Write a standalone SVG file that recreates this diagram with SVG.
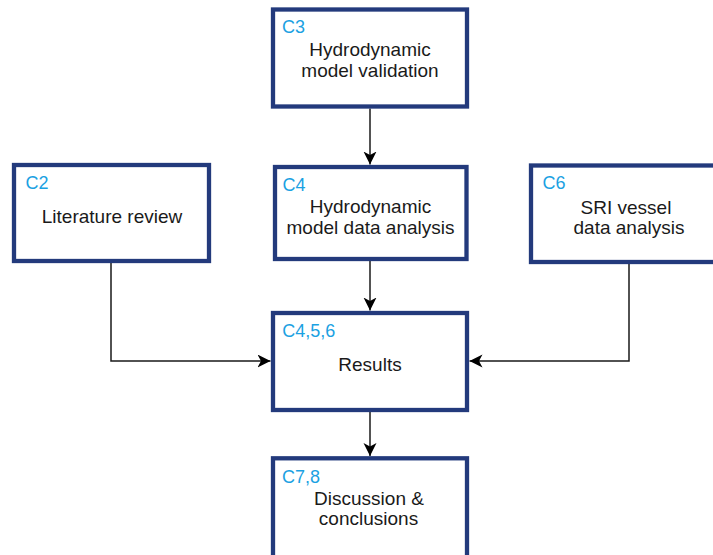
<svg xmlns="http://www.w3.org/2000/svg" width="713" height="555" viewBox="0 0 713 555">
<style>
.box{fill:#ffffff;stroke:#233a7c;stroke-width:4.3}
.lbl{font-family:"Liberation Sans",Arial,sans-serif;font-size:18px;fill:#1ba1e2}
.txt{font-family:"Liberation Sans",Arial,sans-serif;font-size:19px;fill:#1a1a1a;text-anchor:middle}
.con{fill:none;stroke:#1a1a1a;stroke-width:1.5}
</style>
<defs>
<marker id="arr" markerUnits="userSpaceOnUse" markerWidth="14" markerHeight="14" refX="13" refY="6.5" orient="auto" viewBox="0 0 14 14">
<path d="M0,0 L13,6.5 L0,13 L3.5,6.5 Z" fill="#000000"/>
</marker>
</defs>
<rect x="0" y="0" width="713" height="555" fill="#ffffff"/>
<g id="connectors">
<path class="con" d="M370,108.5 L370,164.5" marker-end="url(#arr)"/>
<path class="con" d="M370,261 L370,310.5" marker-end="url(#arr)"/>
<path class="con" d="M370,412 L370,456" marker-end="url(#arr)"/>
<path class="con" d="M111,263 L111,361 L270.5,361" marker-end="url(#arr)"/>
<path class="con" d="M629,264 L629,361 L469.5,361" marker-end="url(#arr)"/>
</g>
<g id="c3">
<rect class="box" x="273" y="9.5" width="194" height="97"/>
<text class="lbl" x="282" y="32.5">C3</text>
<text class="txt" x="370" y="56">Hydrodynamic</text>
<text class="txt" x="370" y="76.5">model validation</text>
</g>
<g id="c2">
<rect class="box" x="14" y="165" width="195" height="96"/>
<text class="lbl" x="25.5" y="189">C2</text>
<text class="txt" x="112" y="222.5">Literature review</text>
</g>
<g id="c4">
<rect class="box" x="275" y="167" width="191.5" height="92"/>
<text class="lbl" x="282.5" y="190.5">C4</text>
<text class="txt" x="370.5" y="212.5">Hydrodynamic</text>
<text class="txt" x="370.5" y="233.5">model data analysis</text>
</g>
<g id="c6">
<rect class="box" x="531" y="165.5" width="196" height="96.5"/>
<text class="lbl" x="542.5" y="188.5">C6</text>
<text class="txt" x="626" y="213.5">SRI vessel</text>
<text class="txt" x="629" y="233.5">data analysis</text>
</g>
<g id="results">
<rect class="box" x="273" y="313" width="194" height="97"/>
<text class="lbl" x="282.3" y="336.5">C4,5,6</text>
<text class="txt" x="370" y="370.5">Results</text>
</g>
<g id="c78">
<rect class="box" x="273" y="458.3" width="194" height="110"/>
<text class="lbl" x="282" y="483">C7,8</text>
<text class="txt" x="369" y="505">Discussion &amp;</text>
<text class="txt" x="368.5" y="525">conclusions</text>
</g>
</svg>
